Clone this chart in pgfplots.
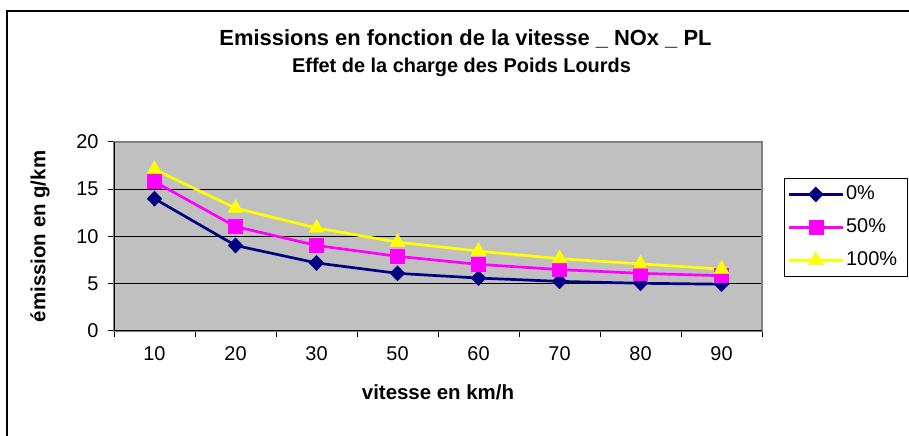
\documentclass[border=0pt]{standalone}
\usepackage{fontspec}
\setmainfont{Liberation Sans}
\usepackage{pgfplots}
\pgfplotsset{compat=1.18}
\definecolor{navyc}{RGB}{0,0,128}
\definecolor{magc}{RGB}{255,0,255}
\definecolor{yelc}{RGB}{255,255,0}
\definecolor{plotgray}{RGB}{192,192,192}
\definecolor{bordergray}{RGB}{128,128,128}
\begin{document}
\begin{tikzpicture}[x=1bp,y=1bp]
\path[use as bounding box] (0,0) rectangle (909,436);
\draw[line width=1.5bp] (7,-20) -- (7,425) -- (930,425);
\node[font=\bfseries\fontsize{22}{26}\selectfont] at (465.5,397) {Emissions en fonction de la vitesse \_ NOx \_ PL};
\node[font=\bfseries\fontsize{20}{24}\selectfont] at (461.5,369) {Effet de la charge des Poids Lourds};
\begin{axis}[
  at={(114bp,105bp)}, anchor=south west,
  width=648bp, height=189bp, scale only axis,
  xmin=-0.5, xmax=7.5, ymin=0, ymax=20,
  xtick={0,...,7}, xticklabels={10,20,30,50,60,70,80,90},
  minor xtick={-0.5,0.5,...,7.5},
  ytick={0,5,10,15,20},
  tick align=outside, tick pos=left,
  major tick length=6bp, minor tick length=6bp,
  every major x tick/.append style={draw=none},
  every minor x tick/.append style={black, line width=1bp},
  every major y tick/.append style={black, line width=1bp},
  /pgf/number format/assume math mode=true,
  tick label style={font=\fontsize{20}{24}\selectfont},
  xticklabel style={yshift=-6bp},
  yticklabel style={xshift=-6bp},
  ymajorgrids,
  major grid style={black, line width=0.8bp},
  axis line style={bordergray, line width=2bp},
  axis background/.style={fill=plotgray},
  xlabel={vitesse en km/h},
  ylabel={émission en g/km},
  label style={font=\bfseries\fontsize{20.5}{24}\selectfont},
  xlabel style={at={(axis description cs:0.5,-0.3228)}, anchor=center},
  ylabel style={at={(axis description cs:-0.1142,0.5)}, anchor=center},
  legend style={at={(axis description cs:1.034,0.8095)}, anchor=north west,
    draw=black, line width=0.8bp, fill=white, font=\fontsize{20}{24}\selectfont,
    row sep=9bp, inner xsep=3bp, inner ysep=4bp,
    nodes={inner sep=2bp, text height=15bp, text depth=5bp, text width=56bp, align=left}},
  legend cell align=left,
  legend image code/.code={\draw[mark repeat=2,mark phase=2,#1] plot coordinates {(0bp,0bp) (27bp,0bp) (54bp,0bp)};},
]
\addplot[navyc, line width=2.7bp, mark=diamond*, mark size=7.5bp, mark options={solid, fill=navyc, draw=navyc, line width=0.5bp, xscale=1.3}]
  coordinates {(0,14.0) (1,9.05) (2,7.2) (3,6.1) (4,5.6) (5,5.25) (6,5.05) (7,4.95)};
\addplot[magc, line width=2.7bp, mark=square*, mark size=7bp, mark options={solid, fill=magc, draw=magc, line width=0.5bp}]
  coordinates {(0,15.8) (1,11.05) (2,9.05) (3,7.9) (4,7.05) (5,6.5) (6,6.1) (7,5.85)};
\addplot[yelc, line width=2.7bp, mark=triangle*, mark size=8.5bp, mark options={solid, fill=yelc, draw=yelc, line width=0.5bp}]
  coordinates {(0,17.1) (1,13.0) (2,10.9) (3,9.4) (4,8.45) (5,7.65) (6,7.1) (7,6.55)};
\legend{0\%,50\%,100\%}
\draw[black, line width=1.5bp] (rel axis cs:0,1) -- (rel axis cs:0,0) -- (rel axis cs:1,0);
\end{axis}
\end{tikzpicture}
\end{document}
